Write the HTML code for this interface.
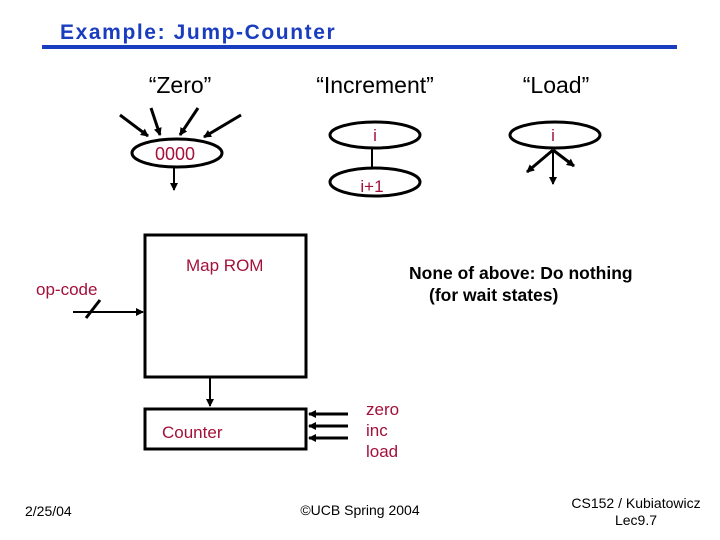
<!DOCTYPE html>
<html><head><meta charset="utf-8"><style>body{margin:0;background:#fff}svg{display:block}</style></head><body>
<svg width="720" height="540" viewBox="0 0 720 540" xmlns="http://www.w3.org/2000/svg" font-family="Liberation Sans, Arial, sans-serif">
<defs><marker id="a" markerWidth="8" markerHeight="8" refX="7" refY="4" orient="auto" markerUnits="userSpaceOnUse"><path d="M0,0 L8,4 L0,8 z" fill="#000"/></marker></defs>
<text x="60" y="39" font-size="21" font-weight="bold" fill="#1a3cbf" letter-spacing="1.6">Example: Jump-Counter</text>
<rect x="42" y="45" width="635" height="4" fill="#1a3cbf"/>
<g font-size="23" fill="#000" text-anchor="middle">
<text x="180" y="93">“Zero”</text><text x="375" y="93">“Increment”</text><text x="556" y="93">“Load”</text>
</g>
<g stroke="#000" stroke-width="3" fill="none">
<ellipse cx="177" cy="153" rx="45" ry="14"/>
<ellipse cx="375" cy="135" rx="45" ry="13"/>
<ellipse cx="375" cy="182" rx="45" ry="14"/>
<ellipse cx="555" cy="135" rx="45" ry="13"/>
<line x1="372" y1="148" x2="372" y2="168" stroke-width="2"/>
<line x1="120" y1="115" x2="148" y2="136" marker-end="url(#a)"/>
<line x1="151" y1="108" x2="160" y2="135" marker-end="url(#a)"/>
<line x1="198" y1="108" x2="180" y2="135" marker-end="url(#a)"/>
<line x1="241" y1="115" x2="204" y2="137" marker-end="url(#a)"/>
<line x1="553" y1="150" x2="527" y2="172" marker-end="url(#a)"/>
<line x1="553" y1="150" x2="574" y2="166" marker-end="url(#a)"/>
<rect x="145" y="235" width="161" height="142"/>
<rect x="145" y="409" width="161" height="40"/>
<line x1="86" y1="318" x2="100" y2="300"/>
</g>
<g stroke="#000" stroke-width="2" fill="none">
<line x1="174" y1="168" x2="174" y2="190" marker-end="url(#a)"/>
<line x1="553" y1="150" x2="553" y2="184" marker-end="url(#a)"/>
<line x1="210" y1="377" x2="210" y2="406" marker-end="url(#a)"/>
<line x1="73" y1="312" x2="143" y2="312" marker-end="url(#a)"/>
<line x1="348" y1="414" x2="309" y2="414" stroke-width="3" marker-end="url(#a)"/>
<line x1="348" y1="426" x2="309" y2="426" stroke-width="3" marker-end="url(#a)"/>
<line x1="348" y1="438" x2="309" y2="438" stroke-width="3" marker-end="url(#a)"/>
</g>
<g font-size="17" fill="#a3103a">
<text x="155" y="160" font-size="18">0000</text>
<text x="375" y="141" text-anchor="middle">i</text>
<text x="372" y="192" text-anchor="middle">i+1</text>
<text x="553" y="141" text-anchor="middle">i</text>
<text x="186" y="271">Map ROM</text>
<text x="36" y="295">op-code</text>
<text x="162" y="438">Counter</text>
<text x="366" y="415">zero</text>
<text x="366" y="436">inc</text>
<text x="366" y="457">load</text>
</g>
<g font-size="17.5" font-weight="bold" fill="#000">
<text x="409" y="279">None of above: Do nothing</text>
<text x="429" y="301">(for wait states)</text>
</g>
<g font-size="14" fill="#000">
<text x="25" y="516">2/25/04</text>
<text x="360" y="515" text-anchor="middle">©UCB Spring 2004</text>
<text x="636" y="508" text-anchor="middle">CS152 / Kubiatowicz</text>
<text x="636" y="525" text-anchor="middle">Lec9.7</text>
</g>
</svg>
</body></html>
